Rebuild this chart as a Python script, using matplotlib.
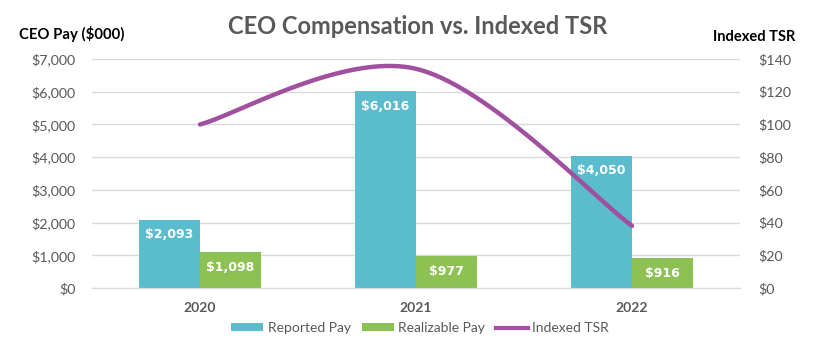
import matplotlib
matplotlib.use('Agg')
import matplotlib.pyplot as plt
import numpy as np
from matplotlib.patches import Patch
from matplotlib.lines import Line2D

years = ['2020', '2021', '2022']
reported_pay = [2093, 6016, 4050]
realizable_pay = [1098, 977, 916]
indexed_tsr = [100, 134, 38]
pay_ticks = [0, 1000, 2000, 3000, 4000, 5000, 6000, 7000]
tsr_ticks = [0, 20, 40, 60, 80, 100, 120, 140]

TEAL = '#5BBCCD'
GREEN = '#8DC153'
PURPLE = '#A0509F'
GRAY = '#595959'
GRID = '#D9D9D9'
FONT = 'Lato'

plt.rcParams['font.family'] = [FONT, 'DejaVu Sans']

fig = plt.figure(figsize=(8.16, 3.46), dpi=100)
ax = fig.add_axes([92/816, 1-288/346, (740-92)/816, (288-59)/346])

x = np.arange(len(years))
w = 0.283
ax.bar(x - w/2, reported_pay, w, color=TEAL, zorder=2)
ax.bar(x + w/2, realizable_pay, w, color=GREEN, zorder=2)
ax.set_xlim(-0.5, 2.5)
ax.set_ylim(0, 7000)
ax.set_yticks(pay_ticks)
ax.set_yticklabels(['${:,}'.format(v) for v in pay_ticks])
ax.set_xticks(x)
ax.set_xticklabels(years, fontweight='bold')
ax.grid(axis='y', color=GRID, linewidth=1, zorder=0)
for s in ax.spines.values():
    s.set_visible(False)
ax.spines['bottom'].set_visible(True)
ax.spines['bottom'].set_color(GRID)
ax.tick_params(axis='y', length=0, pad=12, labelsize=10.3, labelcolor=GRAY)
ax.tick_params(axis='x', length=0, pad=10, labelsize=10, labelcolor=GRAY)

ax2 = ax.twinx()
ax2.set_ylim(0, 140)
ax2.set_yticks(tsr_ticks)
ax2.set_yticklabels(['${}'.format(v) for v in tsr_ticks])
ax2.tick_params(axis='y', length=0, pad=13, labelsize=10.3, labelcolor=GRAY)
for s in ax2.spines.values():
    s.set_visible(False)

# Smoothed line (Catmull-Rom Bezier, like Excel's smoothed line)
P = np.column_stack([x.astype(float), np.array(indexed_tsr, dtype=float)])
n = len(P)
pts = []
for i in range(n - 1):
    p0 = P[i]
    p3 = P[i + 1]
    prev = P[i - 1] if i > 0 else P[i]
    nxt = P[i + 2] if i + 2 < n else P[i + 1]
    c1 = p0 + (p3 - prev) / 6.0
    c2 = p3 - (nxt - p0) / 6.0
    t = np.linspace(0, 1, 60)[:, None]
    seg = (1-t)**3 * p0 + 3*(1-t)**2*t * c1 + 3*(1-t)*t**2 * c2 + t**3 * p3
    pts.append(seg if i == 0 else seg[1:])
curve = np.vstack(pts)
ax2.plot(curve[:, 0], curve[:, 1], color=PURPLE, linewidth=3.2,
         solid_capstyle='round', zorder=3)

# data labels (on top of the line)
for xs, vals in ((x - w/2, reported_pay), (x + w/2, realizable_pay)):
    for xi, v in zip(xs, vals):
        ax2.annotate('${:,}'.format(v), xy=(xi, v), xycoords=ax.transData,
                     xytext=(0, -11), textcoords='offset points',
                     ha='center', va='center', color='white',
                     fontweight='bold', fontsize=9,
                     family=['DejaVu Sans'], zorder=5)

fig.text(418/816, 1-26/346, 'CEO Compensation vs. Indexed TSR', ha='center',
         va='center', fontsize=17, fontweight='bold', color=GRAY)
fig.text(19/816, 1-34/346, 'CEO Pay ($000)', ha='left', va='center',
         fontsize=10.7, fontweight='bold', color='black')
fig.text(795/816, 1-37/346, 'Indexed TSR', ha='right', va='center',
         fontsize=10.5, fontweight='bold', color='black')

handles = [Patch(facecolor=TEAL, edgecolor='none'),
           Patch(facecolor=GREEN, edgecolor='none'),
           Line2D([0], [0], color=PURPLE, linewidth=3)]
fig.legend(handles, ['Reported Pay', 'Realizable Pay', 'Indexed TSR'],
           loc='center', bbox_to_anchor=(420/816, 1-328/346), ncol=3,
           frameon=False, fontsize=10, labelcolor=GRAY,
           handlelength=2.3, handleheight=0.45, handletextpad=0.3,
           columnspacing=0.8)

fig.savefig('out.png', dpi=100)
